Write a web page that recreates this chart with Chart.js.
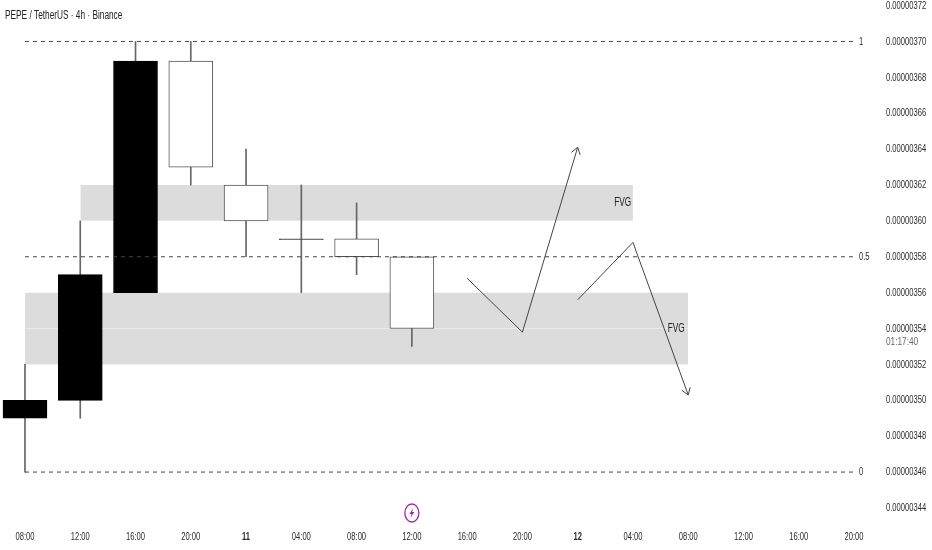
<!DOCTYPE html>
<html>
<head>
<meta charset="utf-8">
<style>
  html, body { margin: 0; padding: 0; background: #fff; }
  canvas { display: block; }
</style>
<script src="https://cdn.jsdelivr.net/npm/chart.js@4/dist/chart.umd.min.js"></script>
</head>
<body>
<canvas id="chart" width="932" height="550"></canvas>
<script>
// prices are in units of 0.00000001
const timeLabels = ['08:00','12:00','16:00','20:00','11','04:00','08:00','12:00','16:00','20:00','12','04:00','08:00','12:00','16:00','20:00'];
const priceTicks = [344,346,348,350,352,354,356,358,360,362,364,366,368,370,372];

const opens  = [349,350,356,368.9,362,359,359,358];
const closes = [350,357,368.9,363,360,358.95,358,354];
const highs  = [352,360,370,370,364,362,361,358];
const lows   = [346,349,356,362,358,356,357,353];

const fibLevels = [370,358,346];
const fibLabels = ['1','0.5','0'];

const upperGap = [362,360];
const lowerGap = [356,352];

const arrowUpX = [8,9,10];
const arrowUpY = [356.8,353.8,364.1];
const arrowDownX = [10,11,12];
const arrowDownY = [355.6,358.8,350.3];

const currentPrice = 354;
const countdown = '01:17:40';
const title = 'PEPE / TetherUS · 4h · Binance';

const FONT = '"Liberation Sans", sans-serif';
const SQUEEZE = 0.66; // the reference text is horizontally condensed

const toLine = (xs, ys) => xs.map((x, i) => ({ x: x, y: ys[i] }));

const flat = (from, to, y, opts) => Object.assign({
  type: 'line',
  data: [{ x: from, y: y }, { x: to, y: y }],
  pointRadius: 0,
  borderWidth: 0,
}, opts);

const putText = (ctx, text, x, y, squeeze = SQUEEZE) => {
  ctx.fillText(text, x, y, ctx.measureText(text).width * squeeze);
};

const bodyFill = (o, c) => {
  if (c > o) return '#000';
  return o - c < 0.1 ? '#444' : '#fff'; // a doji is only a dash
};

const drawings = {
  id: 'drawings',
  afterDraw(chart) {
    const { ctx, scales: { x, y } } = chart;
    ctx.save();
    ctx.textBaseline = 'middle';

    // axis labels, condensed
    ctx.fillStyle = '#2a2a2a';
    ctx.font = '11.5px ' + FONT;
    ctx.textAlign = 'left';
    y.ticks.forEach(t => {
      putText(ctx, (t.value / 1e8).toFixed(8), 886, y.getPixelForValue(t.value));
    });
    ctx.textAlign = 'center';
    x.ticks.forEach((t, i) => {
      ctx.font = (/:/.test(timeLabels[i]) ? '' : 'bold ') + '11.5px ' + FONT;
      putText(ctx, timeLabels[i], x.getPixelForValue(t.value), 537);
    });

    ctx.textAlign = 'left';
    ctx.font = '11.5px ' + FONT;
    fibLevels.forEach((lvl, i) => {
      putText(ctx, fibLabels[i], 859, y.getPixelForValue(lvl));
    });
    ctx.fillStyle = '#222';
    ctx.font = '12px ' + FONT;
    putText(ctx, title, 5, 15.5, 0.69);
    putText(ctx, 'FVG', x.getPixelForValue(10.66), y.getPixelForValue(361), 0.69);
    putText(ctx, 'FVG', x.getPixelForValue(11.63), y.getPixelForValue(354), 0.69);

    ctx.font = '11px ' + FONT;
    ctx.fillStyle = '#666';
    putText(ctx, countdown, 886, y.getPixelForValue(currentPrice) + 13, 0.75);

    // arrow heads
    ctx.strokeStyle = '#444';
    ctx.lineWidth = 1;
    [[arrowUpX, arrowUpY], [arrowDownX, arrowDownY]].forEach(([xs, ys]) => {
      const n = xs.length - 1;
      const x1 = x.getPixelForValue(xs[n]), y1 = y.getPixelForValue(ys[n]);
      const a = Math.atan2(y1 - y.getPixelForValue(ys[n - 1]), x1 - x.getPixelForValue(xs[n - 1]));
      ctx.beginPath();
      ctx.moveTo(x1 - 8 * Math.cos(a - 0.6), y1 - 8 * Math.sin(a - 0.6));
      ctx.lineTo(x1, y1);
      ctx.lineTo(x1 - 8 * Math.cos(a + 0.6), y1 - 8 * Math.sin(a + 0.6));
      ctx.stroke();
    });

    // lightning badge
    const bx = x.getPixelForValue(7), by = 513;
    ctx.strokeStyle = '#9c27b0';
    ctx.fillStyle = '#9c27b0';
    ctx.lineWidth = 1.3;
    ctx.beginPath();
    ctx.ellipse(bx, by, 7, 9, 0, 0, Math.PI * 2);
    ctx.stroke();
    ctx.beginPath();
    ctx.moveTo(bx + 1.5, by - 5);
    ctx.lineTo(bx - 2.5, by + 1);
    ctx.lineTo(bx - 0.2, by + 1);
    ctx.lineTo(bx - 1.5, by + 5);
    ctx.lineTo(bx + 2.5, by - 1);
    ctx.lineTo(bx + 0.2, by - 1);
    ctx.closePath();
    ctx.fill();
    ctx.restore();
  }
};

new Chart(document.getElementById('chart'), {
  type: 'bar',
  plugins: [drawings],
  data: {
    datasets: [
      flat(1, 11, upperGap[0], { fill: { target: { value: upperGap[1] }, above: '#dcdcdc' }, order: 9 }),
      flat(0, 12, lowerGap[0], { fill: { target: { value: lowerGap[1] }, above: '#dcdcdc' }, order: 9 }),
      flat(0, 12, currentPrice, { borderWidth: 1, borderColor: '#ebebeb', order: 8 }),
      {
        data: highs.map((h, i) => ({ x: i, y: [lows[i], h] })),
        backgroundColor: '#666',
        barThickness: 1,
        grouped: false,
        order: 5,
      },
      {
        data: opens.map((o, i) => ({ x: i, y: [o, closes[i]] })),
        backgroundColor: opens.map((o, i) => bodyFill(o, closes[i])),
        borderColor: opens.map((o, i) => closes[i] > o ? '#000' : '#555'),
        borderWidth: 1,
        borderSkipped: false,
        barThickness: 44,
        grouped: false,
        order: 4,
      },
      ...fibLevels.map(lvl => flat(0, 15, lvl, { borderWidth: 1, borderColor: '#444', borderDash: [4, 4], order: 3 })),
      { type: 'line', data: toLine(arrowUpX, arrowUpY), pointRadius: 0, borderWidth: 1, borderColor: '#444', order: 2 },
      { type: 'line', data: toLine(arrowDownX, arrowDownY), pointRadius: 0, borderWidth: 1, borderColor: '#444', order: 2 },
    ]
  },
  options: {
    responsive: false,
    animation: false,
    layout: { padding: 0, autoPadding: false },
    plugins: { legend: { display: false }, tooltip: { enabled: false } },
    scales: {
      x: {
        type: 'linear',
        offset: false,
        min: -0.452,
        max: 15.47,
        grid: { display: false },
        border: { display: false },
        afterBuildTicks: s => { s.ticks = timeLabels.map((_, i) => ({ value: i })); },
        afterFit: s => { s.height = 25; },
        ticks: { display: false },
      },
      y: {
        position: 'right',
        min: 343.05,
        max: 372.31,
        grid: { display: false },
        border: { display: false },
        afterBuildTicks: s => { s.ticks = priceTicks.map(v => ({ value: v })); },
        afterFit: s => { s.width = 52; },
        ticks: { display: false },
      },
    },
  },
});
</script>
</body>
</html>
